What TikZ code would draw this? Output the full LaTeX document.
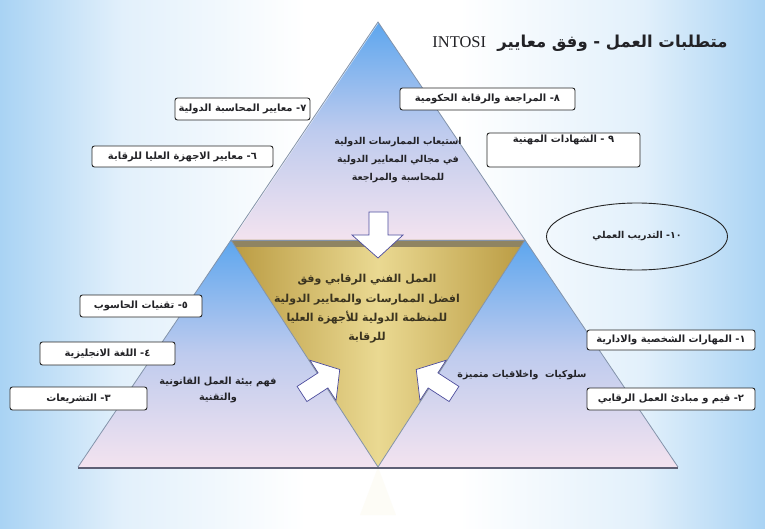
\documentclass[tikz,border=0pt]{standalone}
\usepackage{fontspec}
\setmainfont{DejaVu Sans}
\newfontfamily\arabicfont[Script=Arabic]{DejaVu Sans}
\newfontfamily\latinserif{Liberation Serif}
\TeXXeTstate=1
\usetikzlibrary{shapes.geometric}

\definecolor{skyblue}{HTML}{A9D3F4}
\definecolor{paleblue}{HTML}{E2F0FB}
\definecolor{pyrblue}{HTML}{5DA6EE}
\definecolor{pyrlilac}{HTML}{BECBEE}
\definecolor{pyrpink}{HTML}{F3E3EF}
\definecolor{goldedge}{HTML}{BA9B42}
\definecolor{goldmid}{HTML}{EAD992}
\definecolor{goldband}{HTML}{8F8462}
\definecolor{goldink}{HTML}{3B3420}
\definecolor{edgegray}{HTML}{8393AA}
\definecolor{basegray}{HTML}{5E6075}
\definecolor{inkgray}{HTML}{222226}

\pgfdeclarehorizontalshading{backdrop}{100bp}{color(0bp)=(skyblue); color(25bp)=(skyblue); color(33bp)=(paleblue); color(45bp)=(white); color(55bp)=(white); color(67bp)=(paleblue); color(75bp)=(skyblue); color(100bp)=(skyblue)}

\begin{document}
\begin{tikzpicture}[x=1bp, y=-1bp,
        itembox/.style={draw=black!85, fill=white, rounded corners=2.5bp, line width=0.9bp, inner sep=1bp, font=\arabicfont\bfseries\fontsize{10}{12}\selectfont, text=inkgray},
        midtext/.style={align=center, font=\arabicfont\bfseries\fontsize{9.5}{18}\selectfont, text=inkgray},
        whitearrow/.style={fill=white, draw=black!55!blue!70, line width=0.7bp, line join=miter}]

        \useasboundingbox (0,0) rectangle (765,529);
        \shade[shading=backdrop] (0,0) rectangle (765,529);

        \coordinate (apex) at (378,22);
        \coordinate (baseleft) at (78,467);
        \coordinate (baseright) at (678,467);
        \coordinate (midleft) at (231,240);
        \coordinate (midright) at (525,240);
        \coordinate (tip) at (378,467);

        % pyramid
        \shade[top color=pyrblue, bottom color=pyrpink, middle color=pyrlilac] (apex) -- (midright) -- (midleft) -- cycle;
        \shade[top color=pyrblue, bottom color=pyrpink, middle color=pyrlilac] (midleft) -- (tip) -- (baseleft) -- cycle;
        \shade[top color=pyrblue, bottom color=pyrpink, middle color=pyrlilac] (midright) -- (baseright) -- (tip) -- cycle;
        \shade[left color=goldedge, right color=goldedge, middle color=goldmid] (midleft) -- (midright) -- (tip) -- cycle;
        \fill[goldband] (midleft) -- (midright) -- (520.5,247) -- (235.5,247) -- cycle;
        \fill[goldmid, opacity=0.08] (tip) -- (396,515) -- (360,515) -- cycle;

        \draw[white, line width=2bp, opacity=0.7] (apex) -- (midleft);
        \draw[edgegray, line width=0.8bp] (baseleft) -- (apex) -- (baseright);
        \draw[edgegray, line width=0.8bp] (midleft) -- (midright);
        \draw[edgegray, line width=0.8bp] (midleft) -- (tip) -- (midright);
        \draw[basegray, line width=2.5bp] (baseleft) ++(0,1) -- ++(600,0);

        % arrows into the centre
        \filldraw[whitearrow] (369,212) -- (388,212) -- (388,235) -- (403,235) -- (378,258) -- (352,235) -- (369,235) -- cycle;
        \begin{scope}[shift={(302,394)}, rotate=33]
          \filldraw[whitearrow] (0,-9) -- (25,-9) -- (25,-24) -- (45,0) -- (25,24) -- (25,9) -- (0,9) -- cycle;
        \end{scope}
        \begin{scope}[shift={(454,394)}, rotate=147]
          \filldraw[whitearrow] (0,-9) -- (25,-9) -- (25,-24) -- (45,0) -- (25,24) -- (25,9) -- (0,9) -- cycle;
        \end{scope}

        \node[font=\arabicfont\bfseries\fontsize{16.5}{18}\selectfont, text=inkgray] (title) at (580,43) {\beginR متطلبات العمل - وفق معايير \ {\latinserif\mdseries\beginL INTOSI\endL}\endR};

        \node[itembox, minimum width=175bp, minimum height=22bp] (itemeight) at (487.5,99) {\beginR ٨- المراجعة والرقابة الحكومية\endR};
        \node[itembox, minimum width=153bp, text height=9bp, text depth=23bp] (itemnine) at (563.5,150) {\beginR ٩ - الشهادات المهنية\endR};
        \node[itembox, minimum width=135bp, minimum height=22bp] (itemseven) at (242.5,109) {\beginR ٧- معايير المحاسبة الدولية\endR};
        \node[itembox, minimum width=181bp, minimum height=21bp] (itemsix) at (182.5,156.5) {\beginR ٦- معايير الاجهزة العليا للرقابة\endR};
        \node[itembox, minimum width=122bp, minimum height=22bp] (itemfive) at (141,306) {\beginR ٥- تقنيات الحاسوب\endR};
        \node[itembox, minimum width=135bp, minimum height=23bp] (itemfour) at (107.5,353.5) {\beginR ٤- اللغة الانجليزية\endR};
        \node[itembox, minimum width=137bp, minimum height=23bp] (itemthree) at (78.5,398.5) {\beginR ٣- التشريعات\endR};
        \node[itembox, minimum width=168bp, minimum height=20bp] (itemone) at (671,340) {\beginR ١- المهارات الشخصية والادارية\endR};
        \node[itembox, minimum width=168bp, minimum height=22bp] (itemtwo) at (671,399) {\beginR ٢- قيم و مبادئ العمل الرقابي\endR};
        \node[draw=black!85, line width=0.9bp, ellipse, minimum width=181bp, minimum height=67bp, inner sep=0pt, font=\arabicfont\bfseries\fontsize{9.5}{11}\selectfont, text=inkgray] (itemten) at (637,236.5) {\beginR\beginL ١٠\endL- التدريب العملي\endR};

        \node[midtext] (toptext) at (398,160) {\beginR استيعاب الممارسات الدولية\endR\\\beginR في مجالي المعايير الدولية\endR\\\beginR للمحاسبة والمراجعة\endR};
        \node[midtext, font=\arabicfont\bfseries\fontsize{11}{19.5}\selectfont, text=goldink] (goldtext) at (367,309) {\beginR العمل الفني الرقابي وفق\endR\\\beginR افضل الممارسات والمعايير الدولية\endR\\\beginR للمنظمة الدولية للأجهزة العليا\endR\\\beginR للرقابة\endR};
        \node[midtext, font=\arabicfont\bfseries\fontsize{9.8}{17}\selectfont] (lefttext) at (218,390) {\beginR فهم بيئة العمل القانونية\endR\\\beginR والتقنية\endR};
        \node[midtext] (righttext) at (522,375) {\beginR سلوكيات\ \ واخلاقيات متميزة\endR};
\end{tikzpicture}
\end{document}
